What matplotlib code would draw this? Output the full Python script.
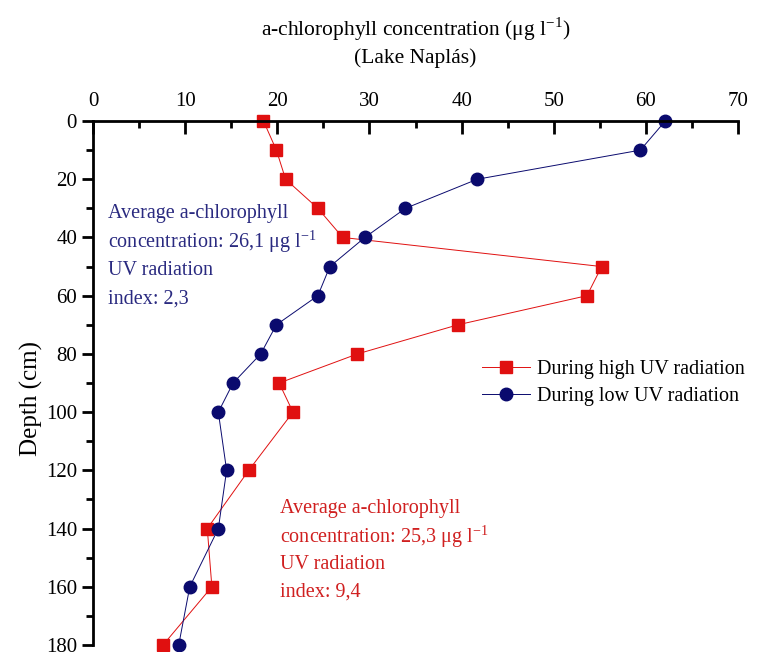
import matplotlib
matplotlib.use("Agg")
import matplotlib.pyplot as plt
from matplotlib.ticker import MultipleLocator

plt.rcParams["font.family"] = ["Liberation Serif", "DejaVu Serif"]
plt.rcParams["mathtext.fontset"] = "custom"
plt.rcParams["mathtext.rm"] = "Liberation Serif"

# depth of the samples (cm)
depth = [0, 10, 20, 30, 40, 50, 60, 70, 80, 90, 100, 120, 140, 160, 180]

# a-chlorophyll concentration (ug/l)
high_uv = [18.5, 19.9, 20.9, 24.4, 27.1, 55.2, 53.6, 39.6, 28.7, 20.2, 21.7, 16.9, 12.4, 12.9, 7.6]
low_uv = [62.1, 59.4, 41.7, 33.9, 29.5, 25.7, 24.4, 19.9, 18.2, 15.2, 13.6, 14.5, 13.6, 10.5, 9.3]

# annotation lines
low_note = ["Average a-chlorophyll", "concentration: 26,1 μg l$^{-1}$", "UV radiation", "index: 2,3"]
high_note = ["Average a-chlorophyll", "concentration: 25,3 μg l$^{-1}$", "UV radiation", "index: 9,4"]

red = "#e01010"
navy = "#0a0a6e"

fig = plt.figure(figsize=(7.58, 6.52), dpi=100)
ax = fig.add_axes([0.1227, 0.0107, 0.851, 0.8037])

ax.plot(high_uv, depth, color=red, lw=0.7, marker="s", ms=8.5, mec=red,
        label="During high UV radiation", clip_on=False)
ax.plot(low_uv, depth, color=navy, lw=0.7, marker="o", ms=9, mec=navy,
        label="During low UV radiation", clip_on=False)

ax.set_xlim(0, 70)
ax.set_ylim(180, 0)

# x axis on top, only left and top spines
ax.xaxis.tick_top()
ax.xaxis.set_label_position("top")
for s in ["right", "bottom"]:
    ax.spines[s].set_visible(False)
for s in ["left", "top"]:
    ax.spines[s].set_linewidth(2)

ax.xaxis.set_major_locator(MultipleLocator(10))
ax.xaxis.set_minor_locator(MultipleLocator(5))
ax.yaxis.set_major_locator(MultipleLocator(20))
ax.yaxis.set_minor_locator(MultipleLocator(10))
ax.tick_params(axis="x", which="both", direction="in", width=2, labelsize=15, pad=7)
ax.tick_params(axis="x", which="major", length=9)
ax.tick_params(axis="x", which="minor", length=5)
ax.tick_params(axis="y", which="both", direction="out", width=2, labelsize=15)
ax.tick_params(axis="y", which="major", length=8)
ax.tick_params(axis="y", which="minor", length=5)

ax.set_xlabel("a-chlorophyll concentration (μg l$^{-1}$)\n(Lake Naplás)",
              fontsize=15.5, labelpad=21, linespacing=1.35)
ax.set_ylabel("Depth (cm)", fontsize=18)
ax.yaxis.set_label_coords(-0.077, 0.47)

for i, line in enumerate(low_note):
    ax.text(1.6, 31.6 + 9.8 * i, line, color="#2a2a80", fontsize=14.5,
            va="center", ha="left")
for i, line in enumerate(high_note):
    ax.text(20.3, 133 + 9.6 * i, line, color="#d02020", fontsize=14.5,
            va="center", ha="left")

ax.legend(loc="center left", bbox_to_anchor=(0.603, 0.5), frameon=False,
          fontsize=14.5, handlelength=2.4, handletextpad=0.35, labelspacing=0.35,
          borderpad=0, borderaxespad=0)

fig.savefig("out.png", dpi=100)
